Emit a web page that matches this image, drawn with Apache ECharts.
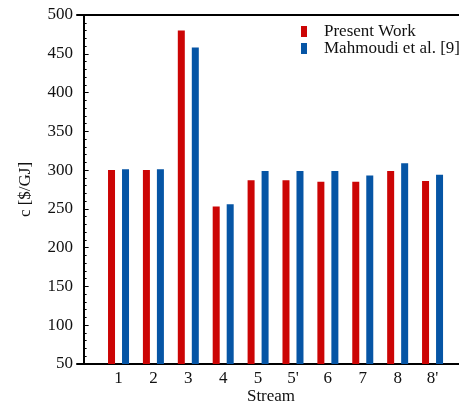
<!DOCTYPE html>
<html>
<head>
<meta charset="utf-8">
<script src="https://cdn.jsdelivr.net/npm/echarts@6/dist/echarts.min.js"></script>
<style>
  html, body { margin: 0; padding: 0; background: #fff; }
  #chart { width: 459px; height: 408px; }
</style>
</head>
<body>
<div id="chart"></div>
<script>
// Stream labels and cost per unit exergy, c [$/GJ]
const streams = ['1', '2', '3', '4', '5', "5'", '6', '7', '8', "8'"];
const presentWork = [300, 300, 480, 253, 287, 287, 285, 285, 299, 286];
const mahmoudi = [301, 301, 458, 256, 299, 299, 299, 293, 309, 294];
const yTicks = [50, 100, 150, 200, 250, 300, 350, 400, 450, 500];

const serif = 'Liberation Serif';
const red = '#cc0505';
const blue = '#0655a5';

// each stream sits at its 1-based index on a numeric x axis
const positions = streams.map((s, i) => i + 1);
const toPairs = vals => vals.map((v, i) => [positions[i], v]);

const xMin = -0.19, xMax = 10.93;

const chart = echarts.init(document.getElementById('chart'), null, { renderer: 'canvas' });
chart.setOption({
  animation: false,
  backgroundColor: '#fff',
  grid: {
    left: 77, top: 15, bottom: 44, right: -6,
    outerBoundsMode: 'none',
    containLabel: false
  },
  legend: {
    orient: 'vertical',
    left: 296, top: 18,
    itemWidth: 6, itemHeight: 11, itemGap: 0,
    icon: 'rect',
    textStyle: { fontFamily: serif, fontSize: 17, color: '#111', lineHeight: 15, padding: [2, 0, 0, 12] },
    data: ['Present Work', 'Mahmoudi et al. [9]']
  },
  xAxis: [
    {
      type: 'value',
      min: xMin, max: xMax,
      name: 'Stream',
      nameLocation: 'middle',
      nameGap: 24,
      nameMoveOverlap: false,
      nameTextStyle: { fontFamily: serif, fontSize: 17, color: '#111' },
      axisLine: { show: true, lineStyle: { color: '#000', width: 2 } },
      axisTick: { show: false },
      splitLine: { show: false },
      axisLabel: {
        customValues: positions,
        formatter: v => streams[Math.round(v) - 1],
        fontFamily: serif, fontSize: 17, color: '#111', margin: 6
      }
    },
    {
      // top frame line
      type: 'value', position: 'top',
      min: xMin, max: xMax,
      axisLine: { show: true, lineStyle: { color: '#000', width: 2 } },
      axisTick: { show: false },
      axisLabel: { show: false },
      splitLine: { show: false }
    }
  ],
  yAxis: {
    type: 'value',
    min: yTicks[0], max: yTicks[yTicks.length - 1], interval: 50,
    name: 'c [$/GJ]',
    nameLocation: 'middle',
    nameRotate: 90,
    nameGap: 43,
    nameMoveOverlap: false,
    nameTextStyle: { fontFamily: serif, fontSize: 17, color: '#111' },
    axisLine: { show: true, lineStyle: { color: '#000', width: 2 } },
    axisTick: { show: true, inside: true, length: 5, lineStyle: { color: '#000', width: 1 } },
    minorTick: { show: true, splitNumber: 5, length: 3, lineStyle: { color: '#000', width: 1 } },
    splitLine: { show: false },
    axisLabel: { fontFamily: serif, fontSize: 17, color: '#111', margin: 4 }
  },
  series: [
    {
      name: 'Present Work', type: 'bar',
      data: toPairs(presentWork),
      barWidth: 7, barGap: '100%',
      itemStyle: { color: red }
    },
    {
      name: 'Mahmoudi et al. [9]', type: 'bar',
      data: toPairs(mahmoudi),
      barWidth: 7, barGap: '100%',
      itemStyle: { color: blue }
    }
  ]
});
</script>
</body>
</html>
